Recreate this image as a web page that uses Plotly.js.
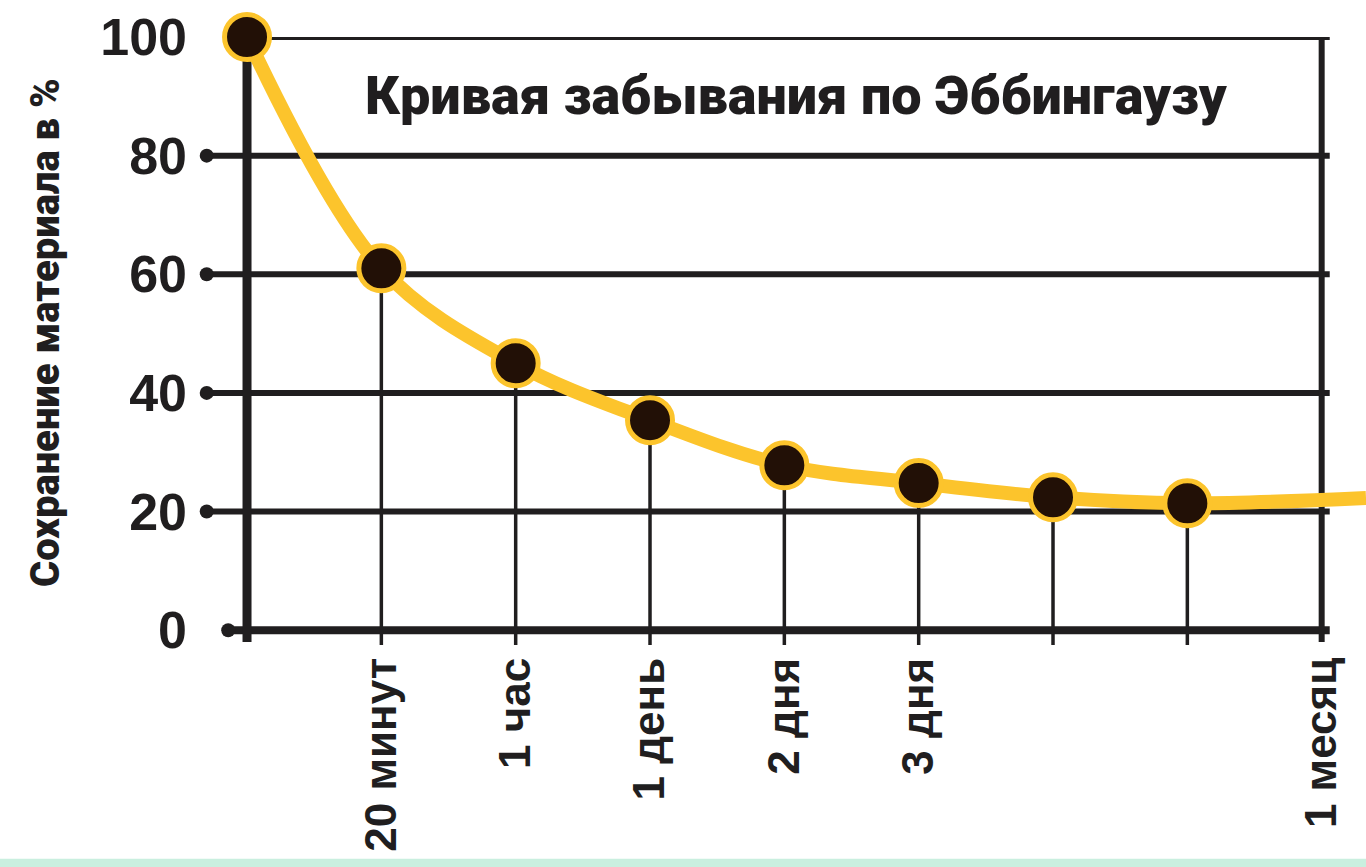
<!DOCTYPE html>
<html><head><meta charset="utf-8">
<script src="https://cdn.plot.ly/plotly-3.0.1.min.js"></script>
<style>html,body{margin:0;padding:0;background:#fff;}#chart{width:1366px;height:867px;}</style>
</head><body><div id="chart"></div>
<script>
// ---- data ----
const positions = [0, 1, 2, 3, 4, 5, 6, 7, 8];
const timeLabels = ["", "20 минут", "1 час", "1 день", "2 дня", "3 дня", "", "", "1 месяц"];
const retention = [100, 61, 45, 35.4, 27.8, 24.8, 22.4, 21.4];   // points with markers (index 0..7)
const tailX = [8, 8.33];          // curve continues past the last marker
const tailY = [21.7, 22.3];
const yTicks = [0, 20, 40, 60, 80, 100];
const titleText = "Кривая забывания по Эббингаузу";
const yTitleText = "Сохранение материала в %";

// ---- styles ----
const INK = "#201e1f";
const YELLOW = "#fcc42c";
const DOT = "#221006";
const FONT = "'Liberation Sans', 'DejaVu Sans', sans-serif";
const TITLEFONT = "Roboto, 'Liberation Sans', sans-serif";
const GRID_LEFT = -0.3, GRID_RIGHT = 8.06, AXIS_LEFT = -0.14, DROP_BOTTOM = -2.5;

const markerX = positions.slice(0, retention.length);
const curveX = markerX.concat(tailX.slice(1));
const curveY = retention.concat(tailY.slice(1));

// drop lines from each marker to below the axis
const dropX = [], dropY = [];
markerX.forEach((x, i) => { if (i > 0) { dropX.push(x, x, null); dropY.push(retention[i], DROP_BOTTOM, null); } });

const shapes = [];
// horizontal grid lines
yTicks.forEach(v => {
  const x0 = v === 100 ? 0 : (v === 0 ? AXIS_LEFT : GRID_LEFT);
  shapes.push({type: "line", xref: "x", yref: "y", x0: x0, x1: GRID_RIGHT, y0: v, y1: v,
    line: {color: INK, width: v === 0 ? 8 : 6}, layer: "below"});
});
// left axis at index 0 and right border at last position
shapes.push({type: "line", xref: "x", yref: "y", x0: 0, x1: 0, y0: 100, y1: -2, line: {color: INK, width: 9}, layer: "below"});
shapes.push({type: "line", xref: "x", yref: "y", x0: positions[8], x1: positions[8], y0: 100, y1: -2, line: {color: INK, width: 6}, layer: "below"});
// bottom mint strip
shapes.push({type: "rect", xref: "paper", yref: "paper", x0: -0.2, x1: 1.01, y0: -0.345, y1: -0.37, line: {width: 0}, fillcolor: "#c9efdf"});

const dotTicks = yTicks.filter(v => v > 0 && v < 100);

const traces = [
  {x: dropX, y: dropY, mode: "lines", line: {color: INK, width: 3.5}, hoverinfo: "skip", cliponaxis: false},
  {x: dotTicks.map(() => GRID_LEFT).concat([AXIS_LEFT]), y: dotTicks.concat([0]), mode: "markers",
   marker: {color: INK, size: 14}, hoverinfo: "skip", cliponaxis: false},
  {x: curveX, y: curveY, mode: "lines", line: {color: YELLOW, width: 14, shape: "spline", smoothing: 1}, hoverinfo: "skip"},
  {x: markerX, y: retention, mode: "markers", cliponaxis: false,
   marker: {color: DOT, size: 45, line: {color: YELLOW, width: 5}}}
];

const layout = {
  width: 1366, height: 867,
  margin: {l: 200, r: 0, t: 37, b: 219},
  paper_bgcolor: "#ffffff", plot_bgcolor: "#ffffff",
  showlegend: false,
  xaxis: {range: [-0.35, 8.33], showgrid: false, zeroline: false, showline: false,
    tickvals: positions, ticktext: timeLabels, tickangle: -90, ticks: "",
    tickfont: {family: FONT, size: 44, color: INK, weight: "bold"}},
  yaxis: {range: [-3, 100], showgrid: false, zeroline: false, showline: false,
    tickvals: yTicks, ticktext: yTicks.map(String), ticks: "", ticklabelstandoff: 12,
    tickfont: {family: FONT, size: 52, color: INK, weight: "bold"}},
  shapes: shapes,
  annotations: [
    {text: titleText, xref: "paper", yref: "paper", x: 0.512, y: 0.905,
     xanchor: "center", yanchor: "middle", showarrow: false,
     font: {family: TITLEFONT, size: 54, color: INK, weight: 900}},
    {text: yTitleText, xref: "paper", yref: "paper", x: -0.133, y: 0.517, textangle: -90,
     xanchor: "center", yanchor: "middle", showarrow: false,
     font: {family: TITLEFONT, size: 40, color: INK, weight: 900}}
  ]
};

Plotly.newPlot("chart", traces, layout, {staticPlot: true, displayModeBar: false});
</script></body></html>
